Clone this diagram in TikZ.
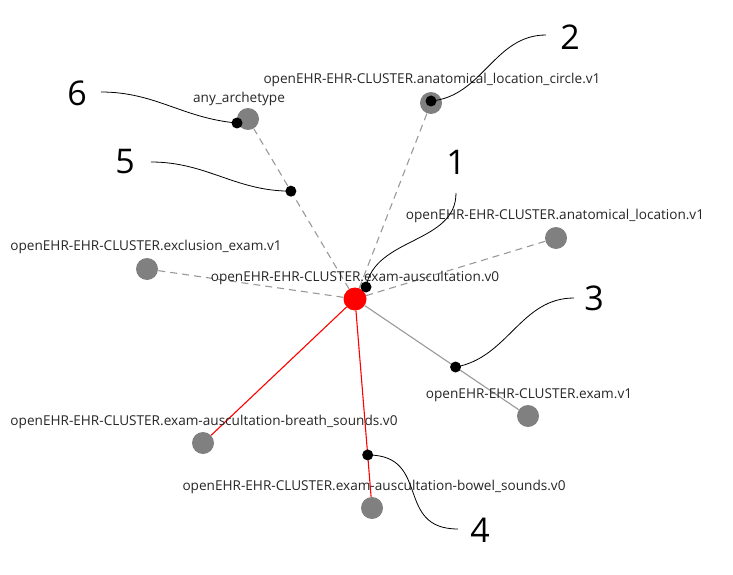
\documentclass[tikz,border=0pt]{standalone}
\usepackage{fontspec}
\setmainfont{Open Sans}
\usetikzlibrary{calc}

\begin{document}
\begin{tikzpicture}[x=1pt,y=-1pt,
    arch/.style={circle,fill=gray,inner sep=0pt,minimum size=22pt},
    root/.style={circle,fill=red,inner sep=0pt,minimum size=23pt},
    lbl/.style={font=\fontsize{13.6}{15}\selectfont,inner sep=0pt,text=black!85},
    num/.style={font=\fontsize{34}{38}\selectfont,inner sep=0pt},
    callout/.style={circle,fill=black,inner sep=0pt,minimum size=11pt},
    link/.style={gray!80,line width=1.1pt},
    loose/.style={link,dash pattern=on 7pt off 5pt},
    hot/.style={red,line width=1.1pt},
    lead/.style={black,line width=0.8pt}]
\useasboundingbox (0,0) rectangle (733,575);

% archetype nodes
\node[root] (exa) at (355,299) {};
\node[arch] (anyarch) at (248,119) {};
\node[arch] (circ) at (431,103) {};
\node[arch] (loc) at (556,238) {};
\node[arch] (excl) at (147,269) {};
\node[arch] (exam) at (528,416) {};
\node[arch] (breath) at (203,443) {};
\node[arch] (bowel) at (372,508) {};

% links
\draw[loose] (exa) -- (anyarch) coordinate[pos=0.61] (p5);
\draw[loose] (exa) -- (circ);
\draw[loose] (exa) -- (loc);
\draw[loose] (exa) -- (excl);
\draw[link] (exa) -- (exam) coordinate[pos=0.59] (p3);
\draw[hot] (exa) -- (breath);
\draw[hot] (exa) -- (bowel) coordinate[pos=0.775] (p4);

% labels
\node[lbl] (lexa) at (355,278) {openEHR-EHR-CLUSTER.exam-auscultation.v0};
\node[lbl] (lany) at (239,99) {any\_archetype};
\node[lbl] (lcirc) at (432,80) {openEHR-EHR-CLUSTER.anatomical\_location\_circle.v1};
\node[lbl] (lloc) at (555,216) {openEHR-EHR-CLUSTER.anatomical\_location.v1};
\node[lbl] (lexcl) at (146,247) {openEHR-EHR-CLUSTER.exclusion\_exam.v1};
\node[lbl] (lexam) at (529,395) {openEHR-EHR-CLUSTER.exam.v1};
\node[lbl] (lbreath) at (204,422) {openEHR-EHR-CLUSTER.exam-auscultation-breath\_sounds.v0};
\node[lbl] (lbowel) at (374,487) {openEHR-EHR-CLUSTER.exam-auscultation-bowel\_sounds.v0};

% callouts
\node[num] (n1) at (456,162) {1};
\node[num] (n2) at (570,37) {2};
\node[num] (n3) at (594,298) {3};
\node[num] (n4) at (480,530) {4};
\node[num] (n5) at (125,162) {5};
\node[num] (n6) at (77,93) {6};
\coordinate (e1) at (456,193);
\coordinate (e2) at (546,35);
\coordinate (e3) at (574,298);
\coordinate (e4) at (458,529);
\coordinate (e5) at (151,162);
\coordinate (e6) at (101,92);

\node[callout] (c1) at ($(exa)+(11,-12)$) {};
\node[callout] (c2) at ($(circ)+(0,-2)$) {};
\node[callout] (c3) at (p3) {};
\node[callout] (c4) at (p4) {};
\node[callout] (c5) at (p5) {};
\node[callout] (c6) at ($(anyarch)+(-11,4)$) {};

\draw[lead] (e1) to[out=-90,in=80] (c1.center);
\draw[lead] (e2) to[out=180,in=5] (c2.center);
\draw[lead] (e3) to[out=180,in=10] (c3.center);
\draw[lead] (e4) to[out=180,in=0,looseness=1.4] (c4.center);
\draw[lead] (e5) to[out=0,in=180] (c5.center);
\draw[lead] (e6) to[out=0,in=175] (c6.center);
\end{tikzpicture}
\end{document}
